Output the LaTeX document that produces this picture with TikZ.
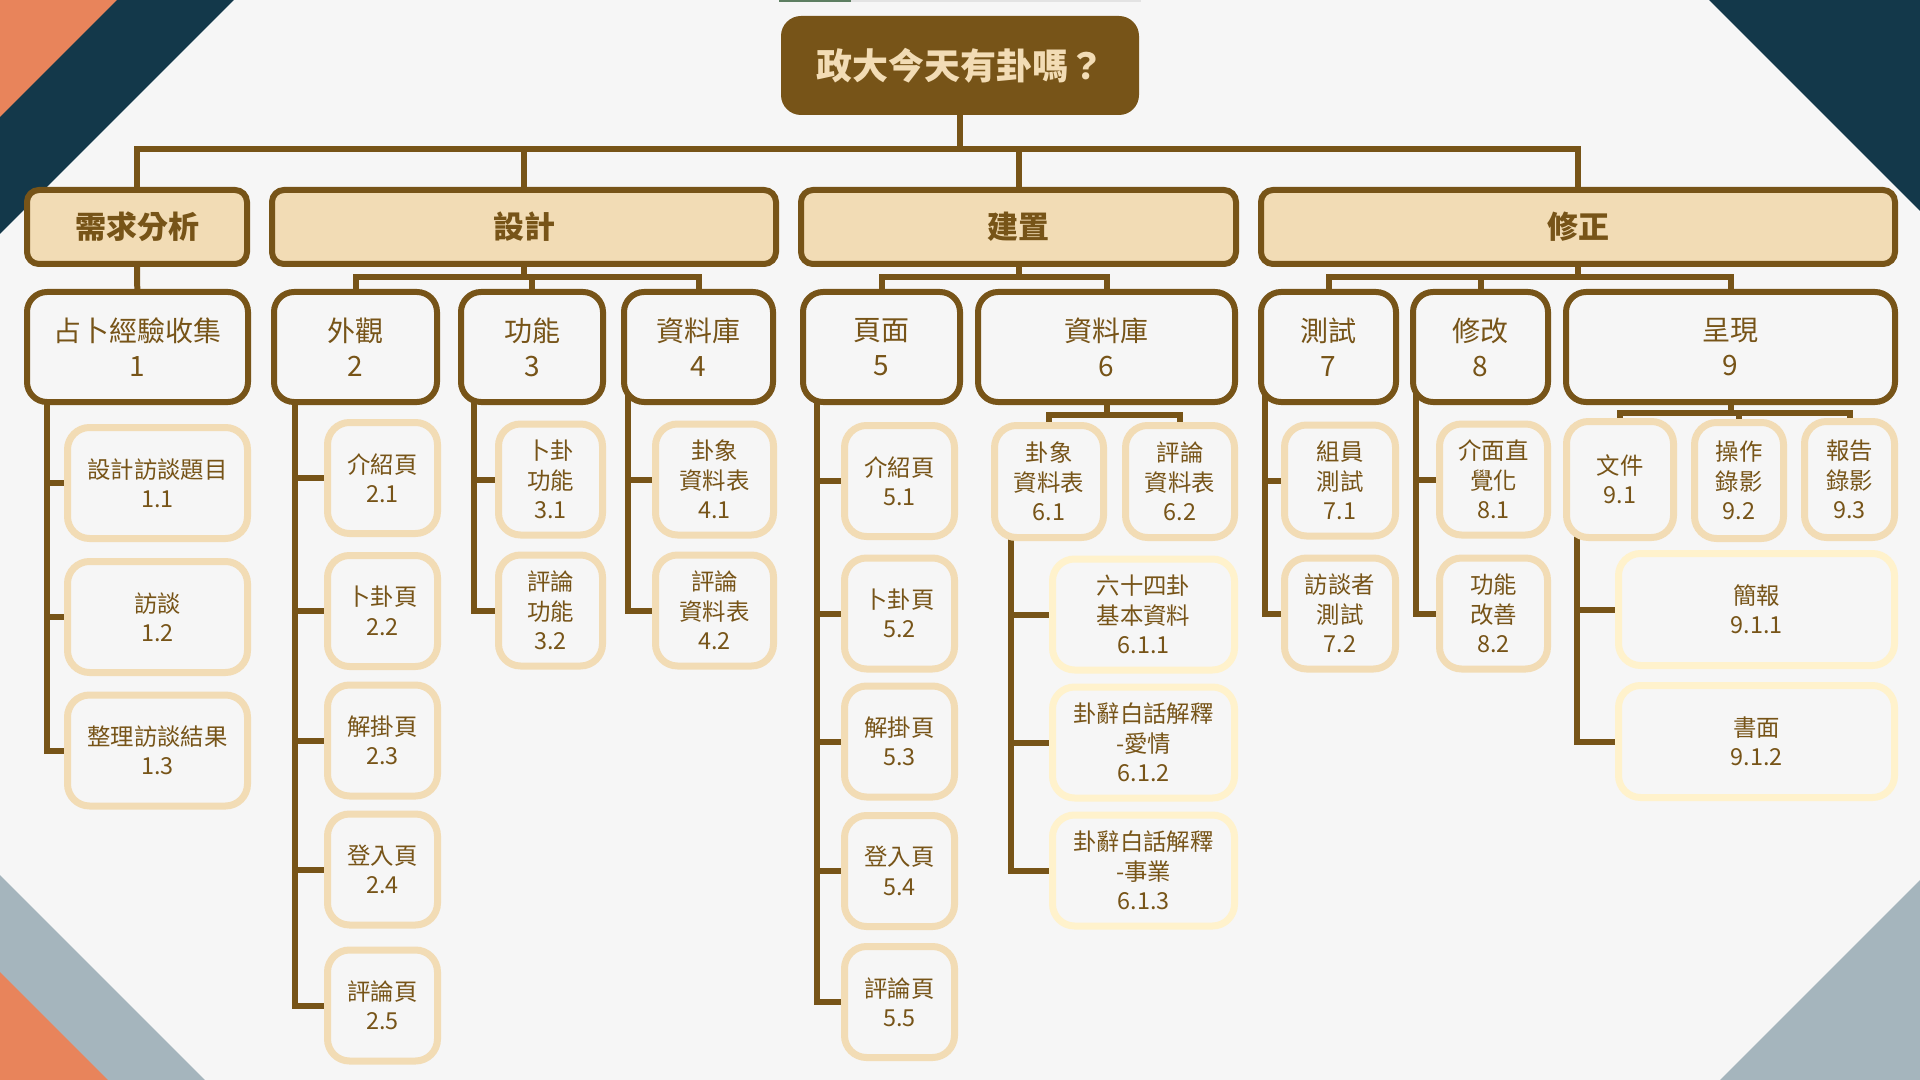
\documentclass[tikz,border=0pt]{standalone}
\usepackage{fontspec}
\setmainfont{Noto Sans CJK TC}
\usetikzlibrary{backgrounds}
\definecolor{cBrown}{HTML}{775418}
\definecolor{cTan}{HTML}{F2DCB5}
\definecolor{cPale}{HTML}{FFF2CC}
\definecolor{cBg}{HTML}{F6F6F6}
\definecolor{cNavy}{HTML}{13384A}
\definecolor{cOrange}{HTML}{E8845B}
\definecolor{cSlate}{HTML}{A5B5BD}
\definecolor{cGreen}{HTML}{5E7F62}
\definecolor{cBar}{HTML}{E3E3E3}
\begin{document}
\begin{tikzpicture}[x=0.5pt,y=-0.5pt,
    link/.style={draw=cBrown,line width=3pt},
    rootbox/.style={fill=cBrown,text=cTan,rounded corners=10pt,minimum width=179pt,minimum height=49.5pt,
      font=\fontsize{18}{22}\selectfont\bfseries},
    phase/.style={draw=cBrown,fill=cTan,text=cBrown,line width=3pt,rounded corners=6pt,minimum height=37pt,
      font=\fontsize{15.5}{19}\selectfont\bfseries},
    task/.style={draw=cBrown,fill=cBg,text=cBrown,line width=3pt,rounded corners=10pt,minimum height=55pt,
      align=center,inner sep=2pt,font=\fontsize{14}{17.5}\selectfont},
    item/.style={draw=cTan,fill=cBg,text=cBrown,line width=3.5pt,rounded corners=11pt,minimum height=55.5pt,
      align=center,inner sep=2pt,font=\fontsize{11.7}{14.7}\selectfont},
    subitem/.style={item,draw=cPale}]
  \useasboundingbox (0,0) rectangle (1920,1080);

  \node[rootbox] (root) at (960,65.5) {政大今天有卦嗎？};

  \node[phase,minimum width=110pt] (req) at (137,227) {需求分析};
  \node[phase,minimum width=252pt] (des) at (524,227) {設計};
  \node[phase,minimum width=217.5pt] (bld) at (1018.5,227) {建置};
  \node[phase,minimum width=317pt] (fix) at (1578,227) {修正};

  \node[task,minimum width=110.5pt] (t1) at (137.5,347) {占卜經驗收集\\1};
  \node[task,minimum width=81.5pt] (t2) at (355.5,347) {外觀\\2};
  \node[task,minimum width=71pt] (t3) at (532,347) {功能\\3};
  \node[task,minimum width=74.5pt] (t4) at (698.5,347) {資料庫\\4};
  \node[task,minimum width=78.5pt] (t5) at (881.5,347) {頁面\\5};
  \node[task,minimum width=128.5pt] (t6) at (1106.5,347) {資料庫\\6};
  \node[task,minimum width=67.5pt] (t7) at (1328.5,347) {測試\\7};
  \node[task,minimum width=67.5pt] (t8) at (1480.5,347) {修改\\8};
  \node[task,minimum width=164.5pt] (t9) at (1730.5,347) {呈現\\9};

  \node[item,minimum width=90pt] (t11) at (157.5,483) {設計訪談題目\\1.1};
  \node[item,minimum width=90pt] (t12) at (157.5,617) {訪談\\1.2};
  \node[item,minimum width=90pt] (t13) at (157.5,750.5) {整理訪談結果\\1.3};

  \node[item,minimum width=55pt] (t21) at (382.5,478) {介紹頁\\2.1};
  \node[item,minimum width=55pt] (t22) at (382.5,611) {卜卦頁\\2.2};
  \node[item,minimum width=55pt] (t23) at (382.5,740.5) {解掛頁\\2.3};
  \node[item,minimum width=55pt] (t24) at (382.5,869.5) {登入頁\\2.4};
  \node[item,minimum width=55pt] (t25) at (382.5,1005.5) {評論頁\\2.5};

  \node[item,minimum width=52pt] (t31) at (550.5,479.5) {卜卦\\功能\\3.1};
  \node[item,minimum width=52pt] (t32) at (550.5,610.5) {評論\\功能\\3.2};

  \node[item,minimum width=59pt] (t41) at (714.5,479.5) {卦象\\資料表\\4.1};
  \node[item,minimum width=59pt] (t42) at (714.5,610.5) {評論\\資料表\\4.2};

  \node[item,minimum width=55pt] (t51) at (899.5,481) {介紹頁\\5.1};
  \node[item,minimum width=55pt] (t52) at (899.5,613.5) {卜卦頁\\5.2};
  \node[item,minimum width=55pt] (t53) at (899.5,741.5) {解掛頁\\5.3};
  \node[item,minimum width=55pt] (t54) at (899.5,871) {登入頁\\5.4};
  \node[item,minimum width=55pt] (t55) at (899.5,1002) {評論頁\\5.5};

  \node[item,minimum width=54.5pt,minimum height=56pt] (t61) at (1049,481.5) {卦象\\資料表\\6.1};
  \node[item,minimum width=54.5pt,minimum height=56pt] (t62) at (1180,481.5) {評論\\資料表\\6.2};
  \node[subitem,minimum width=91pt] (t611) at (1143.5,614.5) {六十四卦\\基本資料\\6.1.1};
  \node[subitem,minimum width=91pt] (t612) at (1143.5,742.5) {卦辭白話解釋\\-愛情\\6.1.2};
  \node[subitem,minimum width=91pt] (t613) at (1143.5,870.5) {卦辭白話解釋\\-事業\\6.1.3};

  \node[item,minimum width=55.5pt] (t71) at (1340,480.5) {組員\\測試\\7.1};
  \node[item,minimum width=55.5pt] (t72) at (1340,613.5) {訪談者\\測試\\7.2};

  \node[item,minimum width=54pt] (t81) at (1493.5,479.5) {介面直\\覺化\\8.1};
  \node[item,minimum width=54pt] (t82) at (1493.5,613.5) {功能\\改善\\8.2};

  \node[item,minimum width=53.5pt,minimum height=58pt] (t91) at (1620,479.5) {文件\\9.1};
  \node[item,minimum width=44.5pt,minimum height=58pt] (t92) at (1739,480.5) {操作\\錄影\\9.2};
  \node[item,minimum width=45pt,minimum height=58pt] (t93) at (1849.5,479.5) {報告\\錄影\\9.3};
  \node[subitem,minimum width=138pt,minimum height=56pt] (t911) at (1756.5,609.5) {簡報\\9.1.1};
  \node[subitem,minimum width=138pt,minimum height=56pt] (t912) at (1756.5,741.5) {書面\\9.1.2};

  \begin{pgfonlayer}{background}
    \fill[cBg] (0,0) rectangle (1920,1080);
    \fill[cNavy] (0,0) -- (234,0) -- (0,234) -- cycle;
    \fill[cOrange] (0,0) -- (117,0) -- (0,117) -- cycle;
    \fill[cNavy] (1709,0) -- (1920,0) -- (1920,211) -- cycle;
    \fill[cSlate] (0,875) -- (205,1080) -- (0,1080) -- cycle;
    \fill[cOrange] (0,972) -- (108,1080) -- (0,1080) -- cycle;
    \fill[cSlate] (1920,880) -- (1720,1080) -- (1920,1080) -- cycle;
    \fill[cGreen] (779,0) rectangle (851,2);
    \fill[cBar] (851,0) rectangle (1141,2);

    \draw[link] (root.south) -- ++(0,34) -| (req.north);
    \draw[link] (root.south) -- ++(0,34) -| (des.north);
    \draw[link] (root.south) -- ++(0,34) -| (bld.north);
    \draw[link] (root.south) -- ++(0,34) -| (fix.north);

    \draw[link] (req) -- (t1);
    \draw[link] (des.south) -- ++(0,10) -| (t2.north);
    \draw[link] (des.south) -- ++(0,10) -| (t3.north);
    \draw[link] (des.south) -- ++(0,10) -| (t4.north);
    \draw[link] (bld.south) -- ++(0,10) -| (t5.north);
    \draw[link] (bld.south) -- ++(0,10) -| (t6.north);
    \draw[link] (fix.south) -- ++(0,10) -| (t7.north);
    \draw[link] (fix.south) -- ++(0,10) -| (t8.north);
    \draw[link] (fix.south) -- ++(0,10) -| (t9.north);

    \draw[link] ([xshift=11.5pt]t1.west) |- (t11.west);
    \draw[link] ([xshift=11.5pt]t1.west) |- (t12.west);
    \draw[link] ([xshift=11.5pt]t1.west) |- (t13.west);

    \draw[link] ([xshift=12pt]t2.west) |- (t21.west);
    \draw[link] ([xshift=12pt]t2.west) |- (t22.west);
    \draw[link] ([xshift=12pt]t2.west) |- (t23.west);
    \draw[link] ([xshift=12pt]t2.west) |- (t24.west);
    \draw[link] ([xshift=12pt]t2.west) |- (t25.west);

    \draw[link] ([xshift=8pt]t3.west) |- (t31.west);
    \draw[link] ([xshift=8pt]t3.west) |- (t32.west);

    \draw[link] ([xshift=3.5pt]t4.west) |- (t41.west);
    \draw[link] ([xshift=3.5pt]t4.west) |- (t42.west);

    \draw[link] ([xshift=8.5pt]t5.west) |- (t51.west);
    \draw[link] ([xshift=8.5pt]t5.west) |- (t52.west);
    \draw[link] ([xshift=8.5pt]t5.west) |- (t53.west);
    \draw[link] ([xshift=8.5pt]t5.west) |- (t54.west);
    \draw[link] ([xshift=8.5pt]t5.west) |- (t55.west);

    \draw[link] (t6.south) -- ++(0,10) -| (t61.north);
    \draw[link] (t6.south) -- ++(0,10) -| (t62.north);
    \draw[link] ([xshift=10pt]t61.west) |- (t611.west);
    \draw[link] ([xshift=10pt]t61.west) |- (t612.west);
    \draw[link] ([xshift=10pt]t61.west) |- (t613.west);

    \draw[link] ([xshift=3.5pt]t7.west) |- (t71.west);
    \draw[link] ([xshift=3.5pt]t7.west) |- (t72.west);

    \draw[link] ([xshift=3pt]t8.west) |- (t81.west);
    \draw[link] ([xshift=3pt]t8.west) |- (t82.west);

    \draw[link] (t9.south) -- ++(0,8) -| (t91.north);
    \draw[link] (t9.south) -- ++(0,8) -| (t92.north);
    \draw[link] (t9.south) -- ++(0,8) -| (t93.north);
    \draw[link] ([xshift=7pt]t91.west) |- (t911.west);
    \draw[link] ([xshift=7pt]t91.west) |- (t912.west);
  \end{pgfonlayer}
\end{tikzpicture}
\end{document}
